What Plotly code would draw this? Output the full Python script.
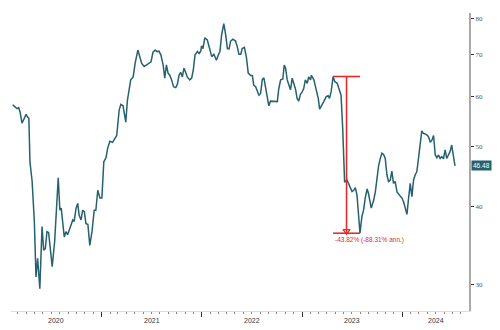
import math
import pandas as pd
import plotly.graph_objects as go

dates = [
    "2020-02-12","2020-02-22","2020-02-28","2020-03-05","2020-03-10","2020-03-17","2020-03-26","2020-04-01",
    "2020-04-06","2020-04-11","2020-04-15","2020-04-23","2020-05-01","2020-05-07","2020-05-13","2020-05-21",
    "2020-05-29","2020-06-04","2020-06-10","2020-06-16","2020-06-22","2020-06-28","2020-07-05","2020-07-14",
    "2020-07-21","2020-07-27","2020-08-02","2020-08-07","2020-08-12","2020-08-18","2020-08-24","2020-08-30",
    "2020-09-05","2020-09-12","2020-09-18","2020-09-23","2020-09-30","2020-10-06","2020-10-11","2020-10-18",
    "2020-10-24","2020-10-30","2020-11-05","2020-11-12","2020-11-19","2020-11-27","2020-12-05","2020-12-11",
    "2020-12-18","2020-12-26",
    "2021-01-02","2021-01-09","2021-01-17","2021-01-23","2021-01-31","2021-02-10","2021-02-18","2021-02-25",
    "2021-03-06","2021-03-12","2021-03-20","2021-03-30","2021-04-05","2021-04-11","2021-04-17","2021-04-26",
    "2021-05-03","2021-05-13","2021-05-20","2021-05-27","2021-06-05","2021-06-13","2021-06-23","2021-06-30",
    "2021-07-07","2021-07-15","2021-07-22","2021-07-29","2021-08-05","2021-08-13","2021-08-19","2021-08-25",
    "2021-08-31","2021-09-06","2021-09-13","2021-09-20","2021-09-28","2021-10-04","2021-10-10","2021-10-16",
    "2021-10-22","2021-10-28","2021-11-03","2021-11-09","2021-11-18","2021-11-25","2021-12-01","2021-12-07",
    "2021-12-16","2021-12-22","2021-12-28","2021-12-31",
    "2022-01-05","2022-01-12","2022-01-21","2022-01-29","2022-02-06","2022-02-14","2022-02-23","2022-03-02",
    "2022-03-08","2022-03-14","2022-03-22","2022-03-29","2022-04-04","2022-04-10","2022-04-16","2022-04-24",
    "2022-05-04","2022-05-10","2022-05-16","2022-05-23","2022-05-28","2022-06-05","2022-06-12","2022-06-19",
    "2022-06-27","2022-07-04","2022-07-09","2022-07-16","2022-07-22","2022-07-28","2022-08-03","2022-08-09",
    "2022-08-15","2022-08-21","2022-08-27","2022-09-02","2022-09-08","2022-09-17","2022-09-26","2022-10-03",
    "2022-10-08","2022-10-15","2022-10-23","2022-10-28","2022-11-02","2022-11-08","2022-11-14","2022-11-20",
    "2022-11-26","2022-12-02","2022-12-08","2022-12-14","2022-12-20","2022-12-26",
    "2023-01-01","2023-01-07","2023-01-13","2023-01-20","2023-01-25","2023-02-01","2023-02-04","2023-02-13",
    "2023-02-21","2023-03-01","2023-03-06","2023-03-13","2023-03-21","2023-03-30","2023-04-06","2023-04-11",
    "2023-04-17","2023-04-24","2023-04-30","2023-05-09","2023-05-17","2023-05-23","2023-05-29","2023-06-05",
    "2023-06-14","2023-06-20","2023-06-26","2023-07-02","2023-07-08","2023-07-14","2023-07-20","2023-07-26",
    "2023-07-31","2023-08-07","2023-08-13","2023-08-19","2023-08-26","2023-08-31","2023-09-10","2023-09-19",
    "2023-09-25","2023-10-01","2023-10-07","2023-10-13","2023-10-19","2023-10-25","2023-10-31","2023-11-06",
    "2023-11-12","2023-11-18","2023-11-24","2023-11-30","2023-12-06","2023-12-13","2023-12-18","2023-12-25",
    "2023-12-31",
    "2024-01-06","2024-01-12","2024-01-18","2024-01-24","2024-01-30","2024-02-05","2024-02-11","2024-02-17",
    "2024-02-23","2024-02-29","2024-03-06","2024-03-12","2024-03-18","2024-03-28","2024-04-05","2024-04-12",
    "2024-04-18","2024-04-24","2024-04-30","2024-05-06","2024-05-12","2024-05-18","2024-05-24","2024-05-30",
    "2024-06-05","2024-06-11","2024-06-17","2024-06-23","2024-06-29","2024-07-05","2024-07-11",
]
values = [
    58.2,57.8,57.4,57.6,56.7,54.4,55.7,56.2,
    55.7,55.4,47.2,43.9,37.9,30.9,33.1,29.6,
    37.2,34.1,34.3,36.5,36.4,33.9,32.1,35.2,
    39.3,44.5,39.5,39.8,37.9,35.8,36.5,36.1,
    36.7,37.6,38.1,37.9,39.8,40.5,38.8,38.1,
    39.5,39.3,37.6,37.5,34.7,36.5,39.5,39.5,
    42.5,41.3,
    41.3,47.2,47.9,49.6,50.9,50.7,51.5,52.0,
    57.1,58.3,58.0,54.6,59.2,61.1,63.8,64.5,
    67.8,71.2,69.5,67.8,67.0,67.4,67.8,68.2,
    70.6,71.2,70.8,70.9,69.9,67.4,64.2,67.4,
    65.4,64.9,63.8,62.2,62.0,62.8,64.9,65.6,
    64.5,66.6,65.6,64.5,63.8,64.2,66.2,69.9,
    70.8,70.3,70.9,72.3,
    71.6,74.5,73.9,71.6,69.5,70.1,68.6,69.9,
    70.9,75.2,78.5,75.2,71.6,71.5,73.6,74.1,
    73.6,72.1,70.1,70.1,71.6,71.9,69.5,65.4,
    64.9,64.8,62.6,62.2,61.2,60.3,60.7,63.8,
    64.3,62.2,59.6,58.0,59.0,59.0,58.9,58.9,
    61.7,63.8,64.0,67.4,66.6,63.8,62.6,61.5,
    64.2,63.0,61.7,59.6,59.0,60.5,
    61.0,61.8,63.8,63.0,64.5,63.8,64.9,63.8,
    61.5,59.6,57.3,58.2,58.9,60.0,60.2,59.6,
    61.1,64.6,63.4,63.0,61.5,60.3,53.4,43.8,
    44.1,43.5,42.8,42.3,42.5,42.9,41.8,39.0,
    36.29,38.6,39.5,41.3,42.7,42.0,39.8,41.0,
    42.3,44.4,46.6,47.8,48.7,48.5,47.8,45.0,
    43.9,44.1,45.6,43.6,43.9,42.2,41.9,41.5,
    41.3,
    40.7,39.8,38.9,41.3,43.6,41.5,44.1,45.0,
    45.5,47.8,49.9,52.9,52.4,52.2,51.8,50.7,
    51.1,52.0,48.4,47.9,48.4,47.8,48.1,47.7,
    49.3,47.8,48.4,49.0,50.2,48.1,46.48,
]
y_ticks = [30, 40, 50, 60, 70, 80]
years = [2020, 2021, 2022, 2023, 2024]
x_range = ["2020-02-06", "2024-08-31"]
y_range = [27.26, 81.6]
dd_start = "2023-04-24"
dd_end = "2023-07-31"
dd_text = "-43.82% (-88.31% ann.)"

LINE = "#25616f"
RED = "#e62a2a"

s = pd.Series(values, index=pd.to_datetime(dates))
peak = s[pd.Timestamp(dd_start)]
trough = s[pd.Timestamp(dd_end)]
mid = pd.Timestamp(dd_start) + (pd.Timestamp(dd_end) - pd.Timestamp(dd_start)) / 2

fig = go.Figure()
fig.add_trace(go.Scatter(x=s.index, y=s.values, mode="lines",
                         line=dict(color=LINE, width=1.5), hoverinfo="skip"))
for v in (peak, trough):
    fig.add_trace(go.Scatter(x=[dd_start, dd_end], y=[v, v], mode="lines",
                             line=dict(color=RED, width=1.6), hoverinfo="skip"))
fig.add_trace(go.Scatter(x=[mid, mid], y=[peak, trough], mode="lines",
                         line=dict(color=RED, width=1.6), hoverinfo="skip"))
fig.add_trace(go.Scatter(x=[mid], y=[trough * 1.008], mode="markers",
                         marker=dict(symbol="triangle-down-open", size=6,
                                     color=RED, line=dict(width=1.3, color=RED)),
                         hoverinfo="skip"))

fig.add_annotation(x=dd_start, y=math.log10(trough), xref="x", yref="y",
                   text=dd_text, showarrow=False, xanchor="left", yanchor="top",
                   yshift=-1, font=dict(size=6.5, color=RED, family="Liberation Sans"))

fig.add_annotation(x=1, y=math.log10(values[-1]), xref="paper", yref="y",
                   text=f"{values[-1]:.2f}", showarrow=False, xanchor="left",
                   xshift=2, bgcolor=LINE, borderpad=1,
                   font=dict(size=6.5, color="white", family="Liberation Sans"))

# year labels centred on the visible part of each year
r0, r1 = pd.Timestamp(x_range[0]), pd.Timestamp(x_range[1])
for yr in years:
    a = max(pd.Timestamp(f"{yr}-01-01"), r0)
    b = min(pd.Timestamp(f"{yr + 1}-01-01"), r1)
    c = a + (b - a) / 2
    fig.add_annotation(x=c, y=0, xref="x", yref="paper", text=str(yr),
                       showarrow=False, yanchor="top", yshift=-4,
                       font=dict(size=7, color="#333", family="Liberation Sans"))

fig.update_layout(
    width=500, height=330, showlegend=False,
    margin=dict(l=11, r=31, t=13, b=19),
    plot_bgcolor="white", paper_bgcolor="white",
    xaxis=dict(type="date", range=x_range, showgrid=False, zeroline=False,
               showline=True, linecolor="#dddddd", linewidth=1,
               tickvals=[f"{y}-01-01" for y in years], showticklabels=False,
               ticks="outside", ticklen=5, tickcolor="#333", tickwidth=1,
               minor=dict(dtick="M1", ticks="outside", ticklen=2,
                          tickcolor="#888", showgrid=False)),
    yaxis=dict(type="log", side="right", range=[math.log10(y_range[0]), math.log10(y_range[1])],
               showgrid=False, zeroline=False, showline=True, linecolor="#aaaaaa",
               linewidth=2, tickvals=y_ticks, ticktext=[str(t) for t in y_ticks],
               ticks="outside", ticklen=3, tickcolor="#333", tickwidth=1,
               tickfont=dict(size=7, color="#555", family="Liberation Serif")),
)

fig.write_html("out.html")
